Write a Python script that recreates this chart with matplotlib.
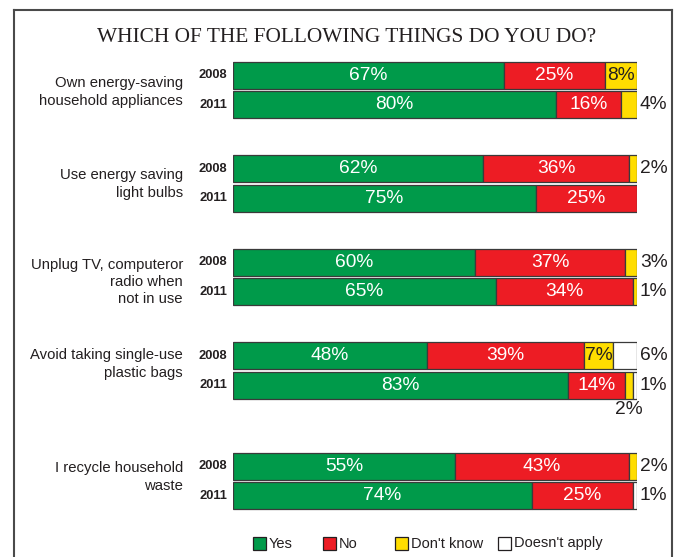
import matplotlib
matplotlib.use("Agg")
import matplotlib.pyplot as plt
from matplotlib.patches import Rectangle
from matplotlib.lines import Line2D

# data
categories = ["Own energy-saving\nhousehold appliances",
              "Use energy saving\nlight bulbs",
              "Unplug TV, computeror\nradio when\nnot in use",
              "Avoid taking single-use\nplastic bags",
              "I recycle household\nwaste"]
years = ["2008", "2011"]
answers = ["Yes", "No", "Don't know", "Doesn't apply"]
yes_2008 = [67, 62, 60, 48, 55]
yes_2011 = [80, 75, 65, 83, 74]
no_2008 = [25, 36, 37, 39, 43]
no_2011 = [16, 25, 34, 14, 25]
dk_2008 = [8, 2, 3, 7, 2]
dk_2011 = [4, 0, 1, 2, 0]
na_2008 = [0, 0, 0, 6, 0]
na_2011 = [0, 0, 0, 1, 1]

series = {
    "2008": [yes_2008, no_2008, dk_2008, na_2008],
    "2011": [yes_2011, no_2011, dk_2011, na_2011],
}
colors = ["#009a4a", "#ed1c24", "#ffdd00", "#ffffff"]
text_colors = ["white", "white", "#231f20", "#231f20"]

W, H = 679, 557
fig = plt.figure(figsize=(W / 100, H / 100), dpi=100)
fig.patch.set_facecolor("white")


def px(x, y):
    return x / W, 1 - y / H


# layout in pixels
bar_left, bar_right = 233, 637
group_y = [90, 183.5, 277, 370.5, 481]
label_y = [92, 184, 282, 364, 477]
offset = 14.8
bar_h = 27

ax = fig.add_axes([bar_left / W, 0, (bar_right - bar_left) / W, 1])
ax.set_xlim(0, 100)
ax.set_ylim(H, 0)
ax.axis("off")

for g, cat in enumerate(categories):
    fig.text(*px(183, label_y[g]), cat, ha="right", va="center",
             multialignment="right", fontsize=10.7, color="#231f20",
             family="Liberation Sans", linespacing=1.3)
    for k, yr in enumerate(years):
        yc = group_y[g] + (offset if k else -offset)
        fig.text(*px(227, yc), yr, ha="right", va="center", fontsize=9.3,
                 fontweight="bold", color="#231f20", family="Liberation Sans")
        vals = [s[g] for s in series[yr]]
        left = 0
        small = []
        for i, v in enumerate(vals):
            if v == 0:
                continue
            ax.barh(yc, v, left=left, height=bar_h, color=colors[i],
                    edgecolor="#3a3a3a", linewidth=0.9)
            if v >= 7 and i < 3:
                ax.text(left + v / 2, yc, f"{v}%", ha="center", va="center",
                        fontsize=13.8, color=text_colors[i],
                        family="Liberation Sans")
            else:
                small.append((left + v / 2, v))
            left += v
        for j, (xc, v) in enumerate(small):
            if j == len(small) - 1:
                ax.text(100.7, yc, f"{v}%", ha="left", va="center",
                        fontsize=13.8, color="#231f20",
                        family="Liberation Sans")
            else:
                ax.text(xc, yc + bar_h / 2 + 11, f"{v}%", ha="center",
                        va="center", fontsize=13.8, color="#231f20",
                        family="Liberation Sans")

fig.text(*px(347, 38), "WHICH OF THE FOLLOWING THINGS DO YOU DO?",
         ha="center", va="center", fontsize=15.4, color="#231f20",
         family="Liberation Serif")

# legend drawn by hand
leg_x = [253, 323, 395, 498]
for x, name, c in zip(leg_x, answers, colors):
    x0, y0 = px(x, 550)
    fig.patches.append(Rectangle((x0, y0), 13 / W, 13 / H, facecolor=c,
                                 edgecolor="#231f20", linewidth=0.9,
                                 transform=fig.transFigure))
    fig.text(*px(x + 16, 543.5), name, ha="left", va="center",
             fontsize=10.5, color="#231f20", family="Liberation Sans")

# frame around the chart
for xs, ys in [((14, 14), (557, 10)), ((14, 672), (10, 10)),
               ((672, 672), (10, 557))]:
    fig.lines.append(Line2D([x / W for x in xs], [1 - y / H for y in ys],
                            color="#4a4a4a", linewidth=1.5,
                            transform=fig.transFigure))

fig.savefig("out.png", dpi=100)
